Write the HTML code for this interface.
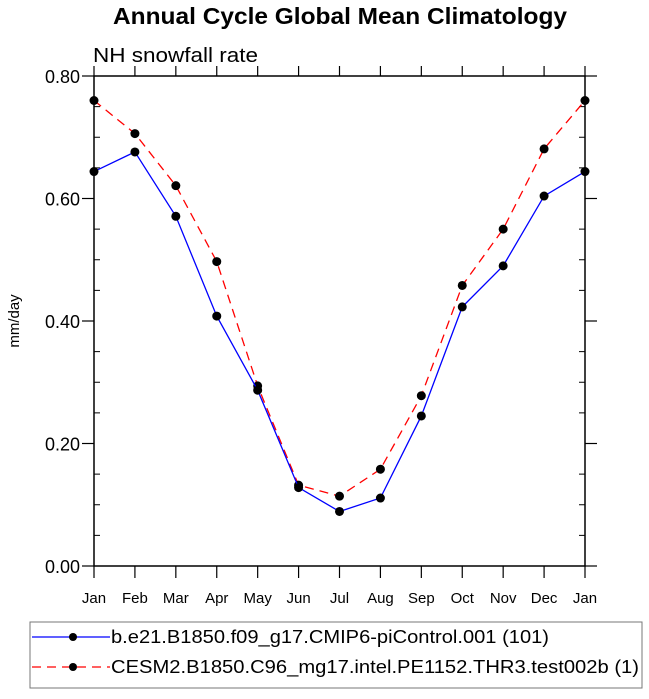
<!DOCTYPE html>
<html><head><meta charset="utf-8"><style>
body{margin:0;background:#fff;width:649px;height:694px;overflow:hidden}
svg text{font-family:"Liberation Sans",Arial,sans-serif}
</style></head><body>
<svg id="chart" width="649" height="694" xmlns="http://www.w3.org/2000/svg">
<text x="113" y="24" font-size="23" font-weight="bold" textLength="454" lengthAdjust="spacingAndGlyphs">Annual Cycle Global Mean Climatology</text>
<text x="93" y="62" font-size="20" textLength="165" lengthAdjust="spacingAndGlyphs">NH snowfall rate</text>
<text transform="translate(19,321) rotate(-90)" text-anchor="middle" font-size="15">mm/day</text>
<rect x="94" y="76" width="491" height="490" fill="none" stroke="#000" stroke-width="1.5"/>
<g id="axes"></g>
<g id="series"></g>
<g>
<rect x="30" y="622" width="612" height="66" fill="none" stroke="#777" stroke-width="1"/>
<g>
<line x1="32" y1="637" x2="110" y2="637" stroke="#00f" stroke-width="1.3"/>
<circle cx="73" cy="637" r="4" fill="#000"/>
<text x="111" y="643" font-size="18" textLength="438" lengthAdjust="spacingAndGlyphs">b.e21.B1850.f09_g17.CMIP6-piControl.001 (101)</text>
</g>
<g>
<line x1="32" y1="667" x2="110" y2="667" stroke="#f00" stroke-width="1.3" stroke-dasharray="9,6"/>
<circle cx="73" cy="667" r="4" fill="#000"/>
<text x="111" y="673" font-size="18" textLength="528" lengthAdjust="spacingAndGlyphs">CESM2.B1850.C96_mg17.intel.PE1152.THR3.test002b (1)</text>
</g>
</g>
</svg>
<script>
const months = ["Jan","Feb","Mar","Apr","May","Jun","Jul","Aug","Sep","Oct","Nov","Dec","Jan"];
const controlValues = [0.644,0.676,0.571,0.408,0.287,0.128,0.089,0.111,0.245,0.423,0.490,0.604,0.644];
const testValues = [0.760,0.706,0.621,0.497,0.294,0.132,0.114,0.158,0.278,0.458,0.550,0.681,0.760];
const yTicks = [0,0.2,0.4,0.6,0.8];
const yTickLabels = ["0.00","0.20","0.40","0.60","0.80"];
const X0=94,X1=585,Y0=566,Y1=76,YMAX=0.8;
const NS="http://www.w3.org/2000/svg";
function xs(i){return X0+(X1-X0)*i/(months.length-1);}
function ys(v){return Y0-(Y0-Y1)*v/YMAX;}
function mk(tag,attrs,parent){const e=document.createElementNS(NS,tag);for(const k in attrs)e.setAttribute(k,attrs[k]);parent.appendChild(e);return e;}
const axes=document.getElementById('axes');
months.forEach((m,i)=>{
  const x=xs(i);
  const t=mk('line',{x1:x,y1:Y0,x2:x,y2:Y0+12,stroke:'#000','stroke-width':1.2},axes);
  
  
  const t2=mk('line',{x1:x,y1:Y1,x2:x,y2:Y1-10,stroke:'#000','stroke-width':1.2},axes);
  
  
  const l=mk('text',{x:x,y:Y0+37,'text-anchor':'middle','font-size':15},axes);
  l.textContent=m;
  
  
});
for(let v=0.05;v<YMAX;v+=0.05){
  if(Math.abs(v/0.2-Math.round(v/0.2))<1e-6)continue;
  const y=ys(v);
  const a=mk('line',{x1:X0,y1:y,x2:X0+6,y2:y,stroke:'#000','stroke-width':1},axes);
  
  
  const b=mk('line',{x1:X1,y1:y,x2:X1-6,y2:y,stroke:'#000','stroke-width':1},axes);
  
  
}
yTicks.forEach((v,i)=>{
  const y=ys(v);
  const a=mk('line',{x1:X0-12,y1:y,x2:X0,y2:y,stroke:'#000','stroke-width':1.2},axes);
  
  
  const b=mk('line',{x1:X1,y1:y,x2:X1+12,y2:y,stroke:'#000','stroke-width':1.2},axes);
  
  
  const l=mk('text',{x:X0-14,y:y+7,'text-anchor':'end','font-size':18},axes);
  l.textContent=yTickLabels[i];
  
  
});
const series=document.getElementById('series');
function draw(vals,color,dash,name){
  const g=mk('g',{},series);
  
  
  const pts=vals.map((v,i)=>xs(i)+','+ys(v)).join(' ');
  const p=mk('polyline',{points:pts,fill:'none',stroke:color,'stroke-width':1.3},g);
  if(dash)p.setAttribute('stroke-dasharray',dash);
  
  
  vals.forEach((v,i)=>{
    const c=mk('circle',{cx:xs(i),cy:ys(v),r:4.5,fill:'#000'},g);
    
    
  });
}
draw(testValues,'#f00','9,6','series-test');
draw(controlValues,'#00f',null,'series-control');
</script>
</body></html>
